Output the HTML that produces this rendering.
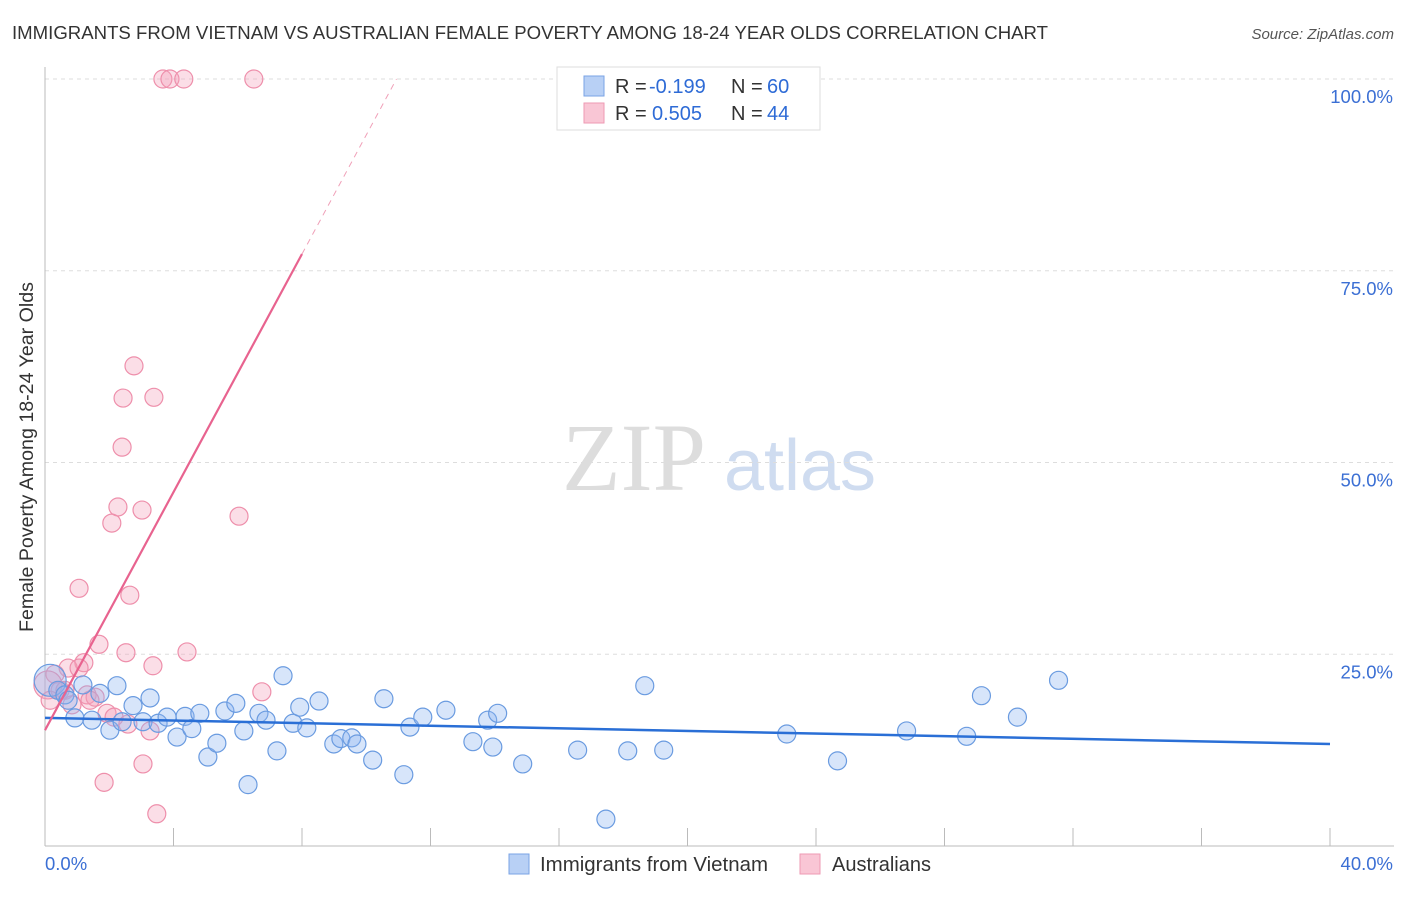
<!DOCTYPE html>
<html><head><meta charset="utf-8"><style>
body{margin:0;background:#fff;font-family:"Liberation Sans",sans-serif;}
</style></head><body>
<svg width="1406" height="892" xmlns="http://www.w3.org/2000/svg" id="chart">
<text x="12" y="39" font-size="18" fill="#333" textLength="1036" lengthAdjust="spacingAndGlyphs">IMMIGRANTS FROM VIETNAM VS AUSTRALIAN FEMALE POVERTY AMONG 18-24 YEAR OLDS CORRELATION CHART</text>
<text x="1394" y="39" font-size="15" fill="#555" font-style="italic" text-anchor="end">Source: ZipAtlas.com</text>
<text x="634" y="490" font-size="96" fill="#ddd" font-family="Liberation Serif,serif" text-anchor="middle">ZIP</text>
<text x="800" y="490" font-size="72" fill="#cfdcf0" text-anchor="middle">atlas</text>
<g id="grid"></g><g id="axes"></g><g id="marks"></g>
<text x="33" y="457" font-size="19.5" fill="#333" text-anchor="middle" transform="rotate(-90 33 457)" textLength="350" lengthAdjust="spacingAndGlyphs">Female Poverty Among 18-24 Year Olds</text>
<g>
<rect x="557" y="67" width="263" height="63" fill="#fff" stroke="#ddd"/>
<rect x="584" y="76" width="20" height="20" fill="#b8d0f5" stroke="#7aa3e5"/>
<rect x="584" y="103" width="20" height="20" fill="#f9c6d5" stroke="#ee9ab3"/>
<text x="615" y="93" font-size="20" fill="#333">R =</text>
<text x="649" y="93" font-size="20" fill="#2e6bd6">-0.199</text>
<text x="731" y="93" font-size="20" fill="#333">N =</text>
<text x="767" y="93" font-size="20" fill="#2e6bd6">60</text>
<text x="615" y="120" font-size="20" fill="#333">R =</text>
<text x="652" y="120" font-size="20" fill="#2e6bd6">0.505</text>
<text x="731" y="120" font-size="20" fill="#333">N =</text>
<text x="767" y="120" font-size="20" fill="#2e6bd6">44</text>
</g>
<g>
<rect x="509" y="854" width="20" height="20" fill="#b8d0f5" stroke="#7aa3e5"/>
<text x="540" y="871" font-size="20" fill="#333" textLength="228" lengthAdjust="spacingAndGlyphs">Immigrants from Vietnam</text>
<rect x="800" y="854" width="20" height="20" fill="#f9c6d5" stroke="#ee9ab3"/>
<text x="832" y="871" font-size="20" fill="#333" textLength="99" lengthAdjust="spacingAndGlyphs">Australians</text>
</g>
</svg>
<script>
const yTicks=[25,50,75,100];
const yTickLabels=["25.0%","50.0%","75.0%","100.0%"];
const xTicks=[0,4,8,12,16,20,24,28,32,36,40];
const xEndLabels=["0.0%","40.0%"];
const blueX=[0.16,0.4,0.62,0.72,0.93,1.18,1.46,1.71,2.02,2.24,2.4,2.74,3.05,3.27,3.52,3.8,4.11,4.36,4.57,4.82,5.07,5.35,5.6,5.94,6.19,6.32,6.66,6.88,7.22,7.41,7.72,7.93,8.15,8.53,8.99,9.21,9.55,9.71,10.2,10.55,11.17,11.36,11.76,12.48,13.32,13.78,13.94,14.09,14.87,16.58,17.46,18.14,18.67,19.26,23.09,24.67,26.82,28.69,29.15,30.27,31.55];
const blueY=[21.6,20.3,19.7,19.0,16.7,21.0,16.4,19.9,15.1,20.9,16.2,18.3,16.2,19.3,16.0,16.8,14.2,16.9,15.3,17.3,11.6,13.4,17.6,18.6,15.0,8.0,17.3,16.4,12.4,22.2,16.0,18.1,15.4,18.9,13.3,14.0,14.1,13.3,11.2,19.2,9.3,15.5,16.8,17.7,13.6,16.4,12.9,17.3,10.7,12.5,3.5,12.4,20.9,12.5,14.6,11.1,15.0,14.3,19.6,16.8,21.6];
const pinkX=[3.67,3.89,4.32,6.5,2.77,2.43,3.39,2.4,2.27,3.02,2.08,6.04,1.06,2.64,1.68,2.52,4.42,3.36,1.21,0.72,1.06,0.31,0.09,0.47,1.31,1.56,6.75,1.93,2.15,2.58,3.27,3.05,1.84,3.48,0.16,0.62,1.4,0.84];
const pinkY=[100,100,100,100,62.6,58.4,58.5,52.0,44.2,43.8,42.1,43.0,33.6,32.7,26.3,25.2,25.3,23.5,23.9,23.2,23.2,22.4,21.0,20.3,19.7,19.4,20.1,17.3,16.8,15.9,15.0,10.7,8.3,4.2,19.0,20.3,19.0,18.4];
const blueTrend=[16.7,13.3];
const pinkTrend=[15.1,7.76];
const X=v=>45+v*32.125, Y=v=>846-v*7.67;
const NS="http://www.w3.org/2000/svg";
function mk(parent,tag,attrs){const e=document.createElementNS(NS,tag);for(const k in attrs)e.setAttribute(k,attrs[k]);document.getElementById(parent).appendChild(e);return e;}
yTicks.forEach((t,i)=>{
 const l=mk('grid','line',{x1:45,x2:1394,y1:Y(t),y2:Y(t),stroke:'#ddd','stroke-dasharray':'4,4'});
 
 
 const tx=mk('grid','text',{x:1393,y:Y(t)+24,'font-size':18.5,fill:'#3b6fd4','text-anchor':'end'});tx.textContent=yTickLabels[i];
 
 
});
let a=mk('axes','line',{x1:45,x2:45,y1:67,y2:846,stroke:'#bbb'});


a=mk('axes','line',{x1:45,x2:1394,y1:846,y2:846,stroke:'#bbb'});


xTicks.forEach(t=>{const l=mk('axes','line',{x1:X(t),x2:X(t),y1:828,y2:846,stroke:'#bbb'});
 
 });
let t0=mk('axes','text',{x:45,y:870,'font-size':18.5,fill:'#3b6fd4'});t0.textContent=xEndLabels[0];


t0=mk('axes','text',{x:1393,y:870,'font-size':18.5,fill:'#3b6fd4','text-anchor':'end'});t0.textContent=xEndLabels[1];


pinkX.forEach((x,i)=>{const c=mk('marks','circle',{cx:X(x),cy:Y(pinkY[i]),r:i==22?14:9,fill:'rgba(244,160,185,0.35)',stroke:'#ee8fab','stroke-width':1.2});
 
 });
blueX.forEach((x,i)=>{const c=mk('marks','circle',{cx:X(x),cy:Y(blueY[i]),r:i==0?16:9,fill:'rgba(140,180,240,0.35)',stroke:'#6a9be0','stroke-width':1.2});
 
 });
let ln=mk('marks','line',{x1:X(0),y1:Y(blueTrend[0]),x2:X(40),y2:Y(blueTrend[1]),stroke:'#2a6fd6','stroke-width':2.5});


const pe=8, pd=(100-pinkTrend[0])/pinkTrend[1];
ln=mk('marks','line',{x1:X(0),y1:Y(pinkTrend[0]),x2:X(pe),y2:Y(pinkTrend[0]+pinkTrend[1]*pe),stroke:'#e8638f','stroke-width':2.2});


ln=mk('marks','line',{x1:X(pe),y1:Y(pinkTrend[0]+pinkTrend[1]*pe),x2:X(pd),y2:Y(100),stroke:'#f0a0b8','stroke-width':1,'stroke-dasharray':'6,5'});


</script>
</body></html>
